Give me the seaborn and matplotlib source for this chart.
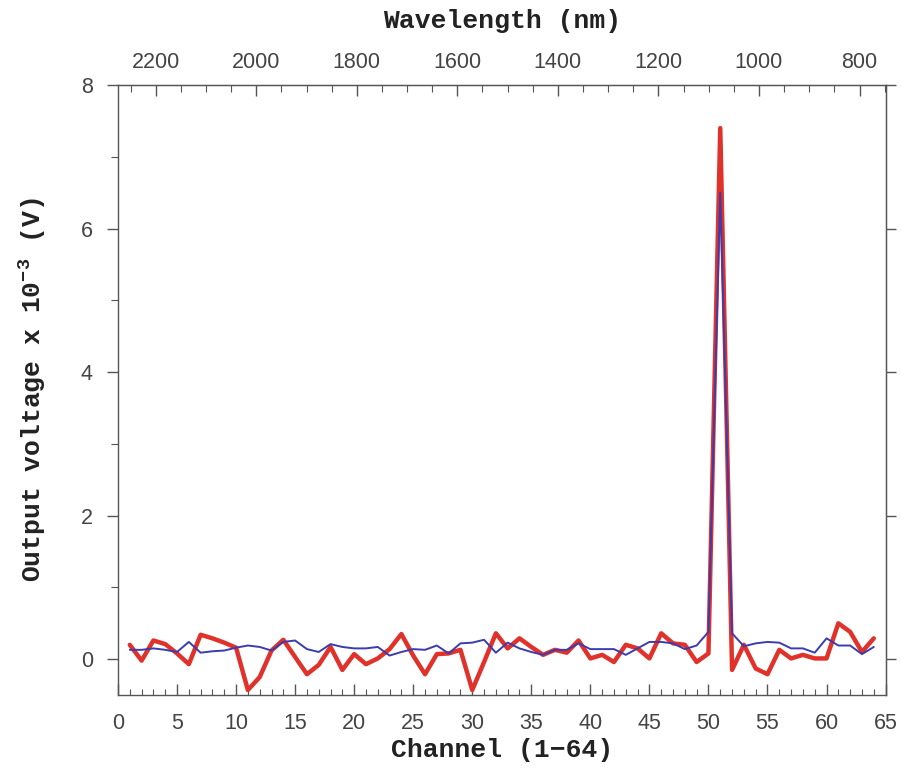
import numpy as np
import pandas as pd
import matplotlib
matplotlib.use("Agg")
import matplotlib.pyplot as plt
from matplotlib.ticker import MultipleLocator, FixedLocator
import seaborn as sns

# ---- data ----
channels = list(range(1, 65))
red_voltage = [0.20, -0.02, 0.26, 0.21, 0.08, -0.07, 0.34, 0.29, 0.23, 0.16,
               -0.43, -0.25, 0.12, 0.27, 0.03, -0.21, -0.08, 0.17, -0.15, 0.07,
               -0.07, 0.01, 0.14, 0.35, 0.05, -0.21, 0.07, 0.08, 0.13, -0.43,
               -0.04, 0.36, 0.15, 0.29, 0.17, 0.06, 0.13, 0.09, 0.26, 0.01,
               0.06, -0.04, 0.20, 0.15, 0.01, 0.36, 0.22, 0.20, -0.04, 0.08,
               7.40, -0.15, 0.20, -0.13, -0.21, 0.13, 0.01, 0.06, 0.01, 0.01,
               0.50, 0.38, 0.10, 0.29]
blue_voltage = [0.13, 0.13, 0.15, 0.13, 0.10, 0.24, 0.09, 0.11, 0.12, 0.16,
                0.19, 0.17, 0.12, 0.24, 0.26, 0.14, 0.10, 0.21, 0.17, 0.15,
                0.15, 0.17, 0.05, 0.10, 0.14, 0.13, 0.19, 0.08, 0.22, 0.23,
                0.27, 0.09, 0.23, 0.15, 0.10, 0.06, 0.13, 0.13, 0.22, 0.14,
                0.14, 0.14, 0.06, 0.15, 0.24, 0.24, 0.22, 0.14, 0.19, 0.38,
                6.50, 0.36, 0.18, 0.22, 0.24, 0.23, 0.15, 0.15, 0.09, 0.29,
                0.19, 0.19, 0.07, 0.17]
x_ticks = list(range(0, 66, 5))
y_ticks = [0, 2, 4, 6, 8]
wavelength_ticks = [2200, 2000, 1800, 1600, 1400, 1200, 1000, 800]

# wavelength calibration (nm) : lambda = WL0 - WL_SLOPE * channel
WL0 = 2275.0
WL_SLOPE = 23.49

df = pd.DataFrame({"channel": channels * 2,
                   "voltage": red_voltage + blue_voltage,
                   "series": ["red"] * 64 + ["blue"] * 64})

sns.set_style("ticks")
plt.rcParams["mathtext.default"] = "regular"

fig = plt.figure(figsize=(9.02, 7.68), dpi=100)
ax = fig.add_axes([0.1308, 0.095, 0.851, 0.7943])

sns.lineplot(data=df[df.series == "red"], x="channel", y="voltage", ax=ax,
             color="#e0312b", linewidth=3.2, legend=False)
sns.lineplot(data=df[df.series == "blue"], x="channel", y="voltage", ax=ax,
             color="#3b3cae", linewidth=1.4, legend=False)

ax.set_xlim(0, 65)
ax.set_ylim(-0.5, 8)

tick_font = dict(family=["Liberation Sans Narrow", "Liberation Sans", "DejaVu Sans"],
                 size=15.5, color="#444444")
label_font = dict(family=["Liberation Mono", "DejaVu Sans Mono"],
                  size=19, weight="bold", color="#222222")

ax.xaxis.set_major_locator(FixedLocator(x_ticks))
ax.xaxis.set_minor_locator(MultipleLocator(1))
ax.yaxis.set_major_locator(FixedLocator(y_ticks))
ax.yaxis.set_minor_locator(MultipleLocator(1))
ax.set_xticklabels([str(t) for t in x_ticks], **tick_font)
ax.set_yticklabels([str(t) for t in y_ticks], **tick_font)

ax.tick_params(axis="x", which="major", direction="in", length=8, width=1,
               color="#555555", pad=13)
ax.tick_params(axis="x", which="minor", direction="in", length=4, width=0.8,
               color="#555555")
ax.tick_params(axis="y", which="major", direction="out", length=8, width=1,
               color="#555555", pad=10)
ax.tick_params(axis="y", which="minor", direction="out", length=5, width=0.8,
               color="#555555")

for s in ax.spines.values():
    s.set_visible(True)
    s.set_color("#555555")
    s.set_linewidth(1.0)

ax.set_xlabel("Channel (1\u221264)", labelpad=3, **label_font)
ax.set_ylabel("Output voltage x 10$^{-3}$ (V)", labelpad=24, **label_font)

# top wavelength axis
def ch2wl(c):
    return WL0 - WL_SLOPE * np.asarray(c)

def wl2ch(w):
    return (WL0 - np.asarray(w)) / WL_SLOPE

top = ax.secondary_xaxis("top", functions=(ch2wl, wl2ch))
top.xaxis.set_major_locator(FixedLocator(wavelength_ticks))
top.xaxis.set_minor_locator(MultipleLocator(50))
top.set_xticks(wavelength_ticks)
top.set_xticklabels([str(w) for w in wavelength_ticks], **tick_font)
top.tick_params(axis="x", which="major", direction="in", length=8, width=1,
                color="#555555", pad=9)
top.tick_params(axis="x", which="minor", direction="in", length=5, width=0.8,
                color="#555555")
top.spines["top"].set_color("#555555")
top.set_xlabel("Wavelength (nm)", labelpad=17, **label_font)

# right axis ticks (outward, no labels)
right = ax.secondary_yaxis("right")
right.set_yticks(y_ticks)
right.set_yticklabels([])
right.tick_params(axis="y", which="major", direction="out", length=7, width=1,
                  color="#555555")
right.spines["right"].set_color("#555555")

fig.savefig("out.png", dpi=100)
